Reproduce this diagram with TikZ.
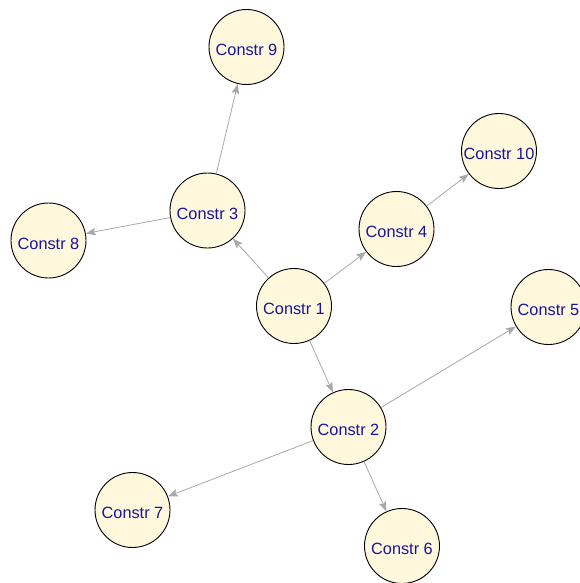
\documentclass[tikz,border=0pt]{standalone}
\usepackage{fontspec}
\setmainfont{Liberation Sans}
\usetikzlibrary{arrows.meta}
\definecolor{nodefill}{RGB}{255,248,220}
\definecolor{labelblue}{RGB}{22,22,158}
\definecolor{edgegray}{RGB}{168,168,168}
\begin{document}
\begin{tikzpicture}[x=1pt,y=-1pt,
  constr/.style={circle,draw=black,line width=0.9pt,fill=nodefill,minimum size=75pt,inner sep=0pt,
    text=labelblue,font=\fontsize{16.3}{19}\selectfont,text height=17.5pt,text depth=0pt},
  link/.style={edgegray,line width=0.8pt,-{Stealth[length=10pt,width=7.5pt,inset=2pt]}}]
  \useasboundingbox (0,0) rectangle (579,583);
  \node[constr] (c1) at (294,306) {Constr 1};
  \node[constr] (c2) at (348.5,427) {Constr 2};
  \node[constr] (c3) at (207.5,210.5) {Constr 3};
  \node[constr] (c4) at (396.5,229) {Constr 4};
  \node[constr] (c5) at (548.5,307) {Constr 5};
  \node[constr] (c6) at (402,546) {Constr 6};
  \node[constr] (c7) at (132.5,510) {Constr 7};
  \node[constr] (c8) at (48.5,240.5) {Constr 8};
  \node[constr] (c9) at (246.5,47) {Constr 9};
  \node[constr] (c10) at (499,151) {Constr 10};
  \draw[link] (c1) -- (c3);
  \draw[link] (c1) -- (c4);
  \draw[link] (c1) -- (c2);
  \draw[link] (c3) -- (c9);
  \draw[link] (c3) -- (c8);
  \draw[link] (c4) -- (c10);
  \draw[link] (c2) -- (c5);
  \draw[link] (c2) -- (c7);
  \draw[link] (c2) -- (c6);
\end{tikzpicture}
\end{document}
